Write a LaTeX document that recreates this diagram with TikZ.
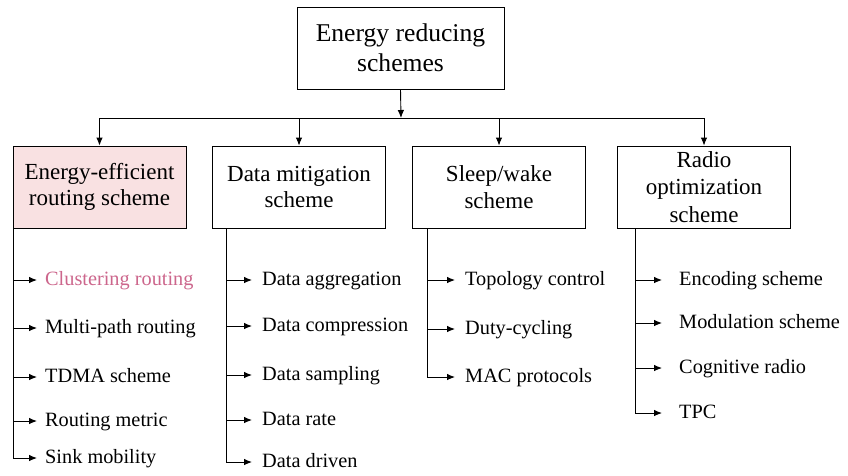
\documentclass[tikz,border=0pt]{standalone}
\usepackage{fontspec}
\setmainfont{Liberation Serif}
\usetikzlibrary{arrows.meta}
\definecolor{pinkfill}{RGB}{249,225,226}
\definecolor{pinktext}{RGB}{204,102,140}
\begin{document}
\begin{tikzpicture}[x=1pt,y=-1pt,
  box/.style={draw, line width=0.9pt, minimum width=173pt, minimum height=82pt,
    align=center, inner sep=0pt, font=\fontsize{23}{26.5}\selectfont},
  arr/.style={-{Latex[length=8pt,width=6.5pt]}, line width=0.9pt},
  trunk/.style={line width=0.9pt},
  leaf/.style={anchor=west, inner ysep=0pt, inner xsep=#1, text height=14pt,
    text depth=4pt, font=\fontsize{20.3}{24}\selectfont}
]
\useasboundingbox (0,0) rectangle (848,475);

% root
\node[box, minimum width=207pt, font=\fontsize{25.6}{30}\selectfont] (root) at (400.5,48) {Energy reducing\\schemes};

% categories
\node[box, fill=pinkfill] (b1) at (99.5,187) {Energy-efficient\\routing scheme};
\node[box] (b2) at (299,187) {Data mitigation\\scheme};
\node[box] (b3) at (499,187) {Sleep/wake\\scheme};
\node[box, font=\fontsize{23}{27.5}\selectfont] (b4) at (704,187) {Radio\\optimization\\scheme};

% bus from root to categories
\coordinate (bus) at (401,118);
\draw[arr] (root.south) -- (bus);
\draw[trunk] (b1.north |- bus) -- (b4.north |- bus);
\foreach \b in {b1,b2,b3,b4} \draw[arr] (\b.north |- bus) -- (\b.north);

% trunks below categories
\coordinate (t1) at (13,228);
\coordinate (t2) at (226,228);
\coordinate (t3) at (427,228);
\coordinate (t4) at (635,228);

% leaves: energy-efficient routing
\node[leaf=8pt, text=pinktext] (l11) at (37,280) {Clustering routing};
\node[leaf=8pt] (l12) at (37,328) {Multi-path routing};
\node[leaf=8pt] (l13) at (37,377) {TDMA scheme};
\node[leaf=8pt] (l14) at (37,421) {Routing metric};
\node[leaf=8pt] (l15) at (37,458) {Sink mobility};

% leaves: data mitigation
\node[leaf=10pt] (l21) at (252,280) {Data aggregation};
\node[leaf=10pt] (l22) at (252,326) {Data compression};
\node[leaf=10pt] (l23) at (252,375) {Data sampling};
\node[leaf=10pt] (l24) at (252,420) {Data rate};
\node[leaf=10pt] (l25) at (252,462) {Data driven};

% leaves: sleep/wake
\node[leaf=10pt] (l31) at (455,280) {Topology control};
\node[leaf=10pt] (l32) at (455,329) {Duty-cycling};
\node[leaf=10pt] (l33) at (455,377) {MAC protocols};

% leaves: radio optimization
\node[leaf=17pt] (l41) at (662,280) {Encoding scheme};
\node[leaf=17pt] (l42) at (662,323) {Modulation scheme};
\node[leaf=17pt] (l43) at (662,368) {Cognitive radio};
\node[leaf=17pt] (l44) at (662,413) {TPC};

% connectors to leaves
\draw[arr] (t1) |- (l15.west);
\foreach \l in {l11,l12,l13,l14} \draw[arr] (t1 |- \l.west) -- (\l.west);
\draw[arr] (t2) |- (l25.west);
\foreach \l in {l21,l22,l23,l24} \draw[arr] (t2 |- \l.west) -- (\l.west);
\draw[arr] (t3) |- (l33.west);
\foreach \l in {l31,l32} \draw[arr] (t3 |- \l.west) -- (\l.west);
\draw[arr] (t4) |- (l44.west);
\foreach \l in {l41,l42,l43} \draw[arr] (t4 |- \l.west) -- (\l.west);
\end{tikzpicture}
\end{document}
